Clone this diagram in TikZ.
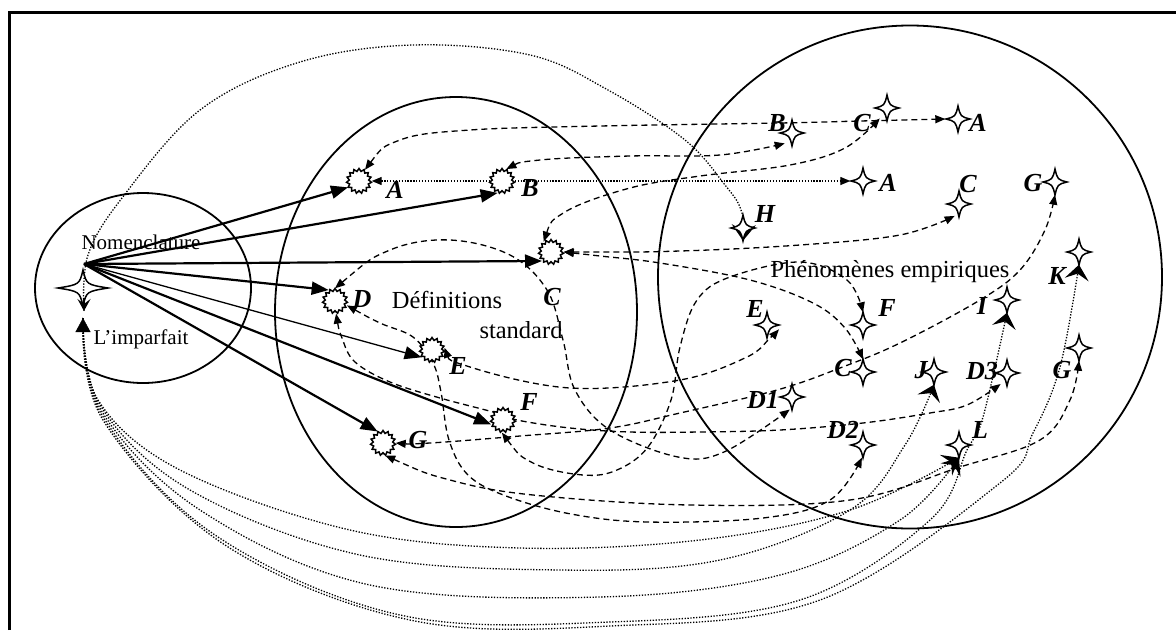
\documentclass[tikz,border=0pt]{standalone}
\usepackage{fontspec}
\setmainfont{Liberation Serif}
\usetikzlibrary{arrows.meta,shapes.geometric}

\tikzset{
  region/.style={ellipse, draw, line width=1.8pt, inner sep=0pt},
  gear/.style={star, star points=15, star point ratio=1.28, minimum size=25pt,
    inner sep=0pt, draw, line width=1.5pt, fill=white},
  sparkhold/.style={circle, minimum size=25pt, inner sep=0pt},
  spark/.pic={\draw[line width=1.5pt, fill=white]
    (0,-13) .. controls (2.5,-2.5) .. (12,0) .. controls (2.5,2.5) .. (0,13)
    .. controls (-2.5,2.5) .. (-12,0) .. controls (-2.5,-2.5) .. cycle;},
  bigspark/.pic={\draw[line width=1.5pt, fill=white]
    (0,-18) .. controls (3.5,-3.5) .. (25,0) .. controls (3.5,3.5) .. (0,18)
    .. controls (-3.5,3.5) .. (-25,0) .. controls (-3.5,-3.5) .. cycle;},
  lbl/.style={font=\fontsize{26}{28}\selectfont\bfseries\itshape, inner sep=0pt},
  txt/.style={font=\fontsize{24.5}{27}\selectfont, inner sep=0pt},
  smalltxt/.style={font=\fontsize{21}{24}\selectfont, inner sep=0pt},
  solidarrow/.style={line width=2.2pt, -{Triangle[length=17pt,width=13pt]}},
  thinarrow/.style={line width=1.3pt, -{Triangle[length=17pt,width=13pt]}},
  dsh/.style={line width=1.3pt, dash pattern=on 6pt off 4pt,
    {Triangle[length=10pt,width=8pt]}-{Triangle[length=10pt,width=8pt]}},
  dot/.style={line width=1.3pt, dash pattern=on 1.3pt off 1.6pt},
  bigtip/.style={-{Stealth[length=15pt,width=24pt,inset=6pt]}},
}

\begin{document}
\begin{tikzpicture}[x=1pt,y=-1pt]
\useasboundingbox (0,0) rectangle (1176,630);
\draw[line width=3pt] (9,630) -- (9,12) -- (1176,12);

% the three regions
\node[region, minimum width=216pt, minimum height=190pt] (nomen) at (143,288) {};
\node[region, minimum width=362pt, minimum height=430pt] (defs) at (456,312) {};
\node[region, minimum width=504pt, minimum height=503pt] (phen) at (910,277) {};

% region titles
\node[smalltxt] (tNom) at (141,242) {Nomenclature};
\node[smalltxt] (tImp) at (141,339) {L’imparfait};
\node[txt] (tDef) at (447,300) {Définitions};
\node[txt] (tStd) at (521,330) {standard};
\node[txt] (tPhen) at (890,272) {Phénomènes empiriques};

% anchor points of the nomenclature
\node[sparkhold] (nS) at (83,288) {};
\coordinate (nsrc) at (84,264);
\coordinate (nbot) at (83,318);
\coordinate (nvee) at (84,311);
\pic at (nS) {bigspark};

% standard definitions
\node[sparkhold] (cA) at (359,181) {};
\node[sparkhold] (cB) at (502,181) {};
\node[sparkhold] (cC) at (551,252) {};
\node[sparkhold] (cD) at (335,301) {};
\node[sparkhold] (cE) at (432,350) {};
\node[sparkhold] (cF) at (503,420) {};
\node[sparkhold] (cG) at (383,443) {};

% empirical phenomena
\foreach \n/\x/\y in {sBt/792/133, sCt/887/108, sAt/958/119, sAm/863/181,
  sCr/959/204, sH/743/228, sGt/1055/182, sK/1079/252, sI/1007/300,
  sE/767/325, sF/863/325, sCm/863/372, sJ/934/372, sDc/1007/373,
  sGl/1079/348, sDa/792/397, sDb/863/445, sL/959/445}
  {\node[sparkhold] (\n) at (\x,\y) {};}

% dotted paths from the nomenclature
\draw[dot, {Stealth[length=16pt,width=24pt,inset=6pt]}-] plot[smooth, tension=0.6]
  coordinates {(sH.south) (741,210) (725,185) (685,140) (608,90) (530,55) (413,45)
  (300,62) (200,110) (122,198) (88,255) (nvee)};
\draw[dot, bigtip] plot[smooth, tension=0.6] coordinates {(nbot) (98,400) (180,470)
  (350,530) (520,548) (700,540) (850,510) (sL.south)};
\draw[dot, bigtip] plot[smooth, tension=0.6] coordinates {(nbot) (100,405) (190,490)
  (360,555) (560,570) (720,560) (850,510) (905,445) (sJ.south)};
\draw[dot, bigtip] plot[smooth, tension=0.6] coordinates {(nbot) (101,410) (200,510)
  (370,585) (600,597) (780,575) (900,520) (sL.south)};
\draw[dot, bigtip] plot[smooth, tension=0.6] coordinates {(nbot) (102,415) (215,535)
  (400,615) (610,622) (800,600) (930,520) (967,450) (983,417) (sI.south)};
\draw[dot, bigtip] plot[smooth, tension=0.6] coordinates {(nbot) (103,420) (225,545)
  (410,620) (610,626) (820,600) (1000,483) (1033,433) (1060,367) (sK.south)};

% dashed links between definitions and phenomena
\draw[dsh] plot[smooth, tension=0.6] coordinates {(cA.62) (400,140) (470,130) (600,126)
  (780,123) (860,121) (sAt.west)};
\draw[dsh] plot[smooth, tension=0.6] coordinates {(cB.70) (540,160) (630,156) (720,155)
  (sBt.235)};
\draw[dsh] plot[smooth, tension=0.6] coordinates {(cC.125) (565,212) (630,188) (700,176)
  (790,165) (845,148) (sCt.235)};
\draw[dot, {Triangle[length=10pt,width=8pt]}-{Triangle[length=10pt,width=8pt]}]
  (cA.east) -- (sAm.west);
\draw[dsh] plot[smooth, tension=0.6] coordinates {(cC.east) (680,251) (800,245) (900,235)
  (sCr.250)};
\draw[dsh] plot[smooth, tension=0.6] coordinates {(cC.east) (600,256) (660,263) (750,280)
  (813,303) (845,328) (sCm.north)};
\draw[dsh] plot[smooth, tension=0.6] coordinates {(cD.90) (390,250) (450,240) (510,255)
  (547,290) (563,340) (575,390) (610,430) (678,457) (724,452) (sDa.260)};
\draw[dsh] plot[smooth, tension=0.6] coordinates {(cD.-20) (380,323) (413,337) (433,363)
  (441,392) (449,440) (468,475) (506,496) (571,514) (648,522) (763,518) (830,500)
  (sDb.265)};
\draw[dsh] plot[smooth, tension=0.6] coordinates {(cD.-85) (342,338) (355,362) (390,382)
  (440,398) (493,412) (517,420) (570,428) (630,432) (700,432) (780,430) (863,423)
  (930,413) (967,405) (sDc.240)};
\draw[dsh] plot[smooth, tension=0.6] coordinates {(cE.10) (470,367) (570,388) (680,380)
  (747,357) (770,338) (sE.-20)};
\draw[dsh] plot[smooth, tension=0.6] coordinates {(cF.265) (533,463) (583,475) (617,470)
  (648,447) (671,400) (680,347) (697,300) (730,277) (800,262) (847,280) (sF.north)};
\draw[dsh] plot[smooth, tension=0.6] coordinates {(cG.east) (430,443) (520,436) (610,428)
  (680,413) (777,390) (840,368) (900,343) (980,300) (1020,270) (1045,230) (sGt.south)};
\draw[dsh] plot[smooth, tension=0.6] coordinates {(cG.-80) (450,480) (533,495) (690,505)
  (850,500) (960,467) (1040,440) (1070,400) (sGl.south)};

% arrows from the nomenclature
\draw[solidarrow] (nsrc) -- (cA.210);
\draw[solidarrow] (nsrc) -- (cB.250);
\draw[solidarrow] (nsrc) -- (cC.225);
\draw[solidarrow] (nsrc) -- (cD.120);
\draw[thinarrow] (nsrc) -- (cE.215);
\draw[solidarrow] (nsrc) -- (cF.200);
\draw[solidarrow] (nsrc) -- (cG.115);

% symbols
\foreach \n in {cA,cB,cC,cD,cE,cF,cG}
  \node[gear] at (\n) {};
\foreach \n in {sBt,sCt,sAt,sAm,sCr,sH,sGt,sK,sI,sE,sF,sCm,sJ,sDc,sGl,sDa,sDb,sL}
  \pic at (\n) {spark};
\draw[line width=1.2pt, -{Stealth[length=12pt,width=13pt,inset=5pt]}] (84,298) -- (nvee);
\draw[-{Triangle[length=14pt,width=15pt]}] (83,333) -- (nbot);

% labels
\node[lbl] (lA) at (395,190) {A};
\node[lbl] (lB) at (530,188) {B};
\node[lbl] (lC) at (552,297) {C};
\node[lbl] (lD) at (362,299) {D};
\node[lbl] (lE) at (458,366) {E};
\node[lbl] (lF) at (529,402) {F};
\node[lbl] (lG) at (418,440) {G};
\node[lbl] (rB) at (777,123) {B};
\node[lbl] (rC1) at (862,123) {C};
\node[lbl] (rA1) at (978,123) {A};
\node[lbl] (rA2) at (888,183) {A};
\node[lbl] (rC2) at (968,184) {C};
\node[lbl] (rG1) at (1033,183) {G};
\node[lbl] (rH) at (765,214) {H};
\node[lbl] (rK) at (1057,276) {K};
\node[lbl] (rI) at (982,306) {I};
\node[lbl] (rE) at (755,309) {E};
\node[lbl] (rF) at (887,308) {F};
\node[lbl] (rC3) at (843,368) {C};
\node[lbl] (rJ) at (921,370) {J};
\node[lbl] (rD3) at (982,371) {D3};
\node[lbl] (rG2) at (1062,370) {G};
\node[lbl] (rD1) at (763,400) {D1};
\node[lbl] (rD2) at (843,430) {D2};
\node[lbl] (rL) at (980,430) {L};
\end{tikzpicture}
\end{document}
